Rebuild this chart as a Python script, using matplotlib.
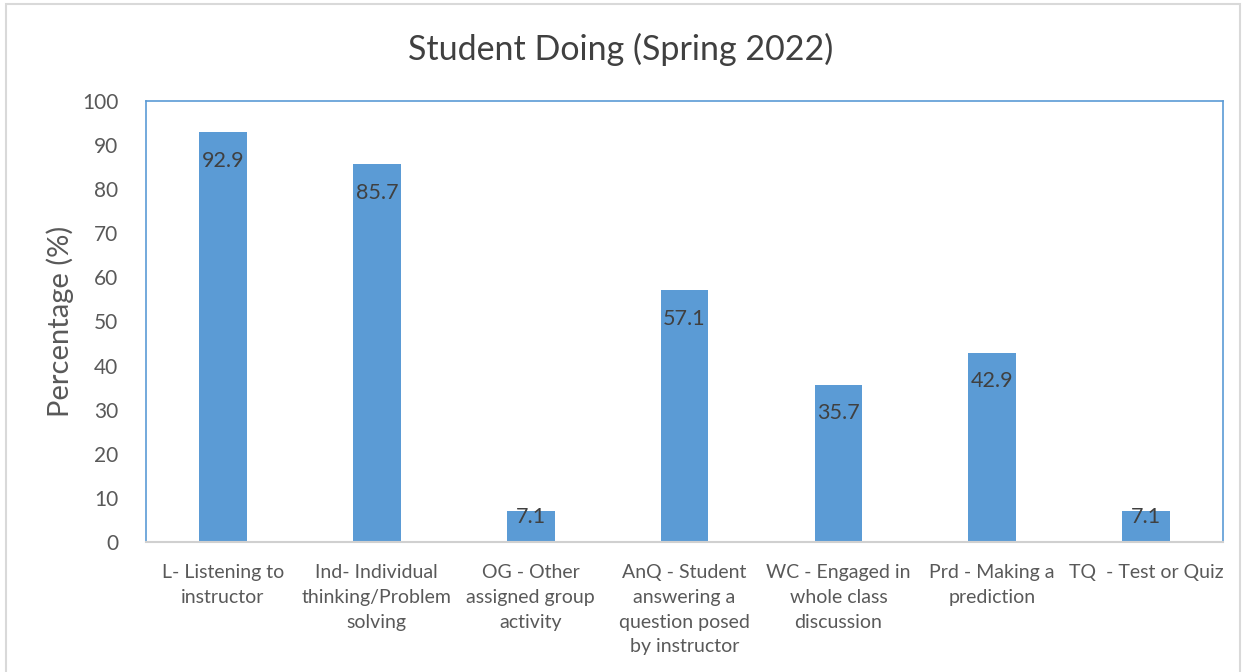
import matplotlib.pyplot as plt
from matplotlib.patches import Rectangle

plt.rcParams['font.family'] = ['Lato', 'DejaVu Sans']

categories = ['L- Listening to\ninstructor',
              'Ind- Individual\nthinking/Problem\nsolving',
              'OG - Other\nassigned group\nactivity',
              'AnQ - Student\nanswering a\nquestion posed\nby instructor',
              'WC - Engaged in\nwhole class\ndiscussion',
              'Prd - Making a\nprediction',
              'TQ  - Test or Quiz']
values = [92.9, 85.7, 7.1, 57.1, 35.7, 42.9, 7.1]

text_col = '#595959'
bar_col = '#5b9bd5'

fig = plt.figure(figsize=(12.42, 6.72), dpi=100)
ax = fig.add_axes([0.1176, 0.1935, 0.8671, 0.6562])

x = range(len(categories))
bars = ax.bar(x, values, width=0.31, color=bar_col)

# labels sit inside the top of each bar, but not below the baseline
for xi, v in zip(x, values):
    ax.text(xi, max(v - 6.5, 5.6), f'{v}', ha='center', va='center',
            fontsize=15.5, color='#404040')

ax.set_xlim(-0.5, len(categories) - 0.5)
ax.set_ylim(0, 100)
ax.set_yticks(range(0, 101, 10))
ax.set_xticks(list(x))
ax.set_xticklabels(categories, fontsize=14, color=text_col, linespacing=1.55)
ax.tick_params(axis='y', labelsize=15, colors=text_col, length=0, pad=20)
ax.tick_params(axis='x', length=0, pad=16)

for s in ['left', 'right', 'top']:
    ax.spines[s].set_color(bar_col)
    ax.spines[s].set_linewidth(1.2)
ax.spines['bottom'].set_color('#d0d0d0')
ax.spines['bottom'].set_linewidth(1.5)

ax.set_ylabel('Percentage (%)', fontsize=21, color=text_col, labelpad=6)
fig.text(0.5, 0.927, 'Student Doing (Spring 2022)', ha='center', va='center',
         fontsize=24.5, color='#404040')

fig.patches.append(Rectangle((0.005, -0.01), 0.993, 1.004, transform=fig.transFigure,
                             fill=False, edgecolor='#d9d9d9', linewidth=1.5))

plt.savefig('out.png', dpi=100)
